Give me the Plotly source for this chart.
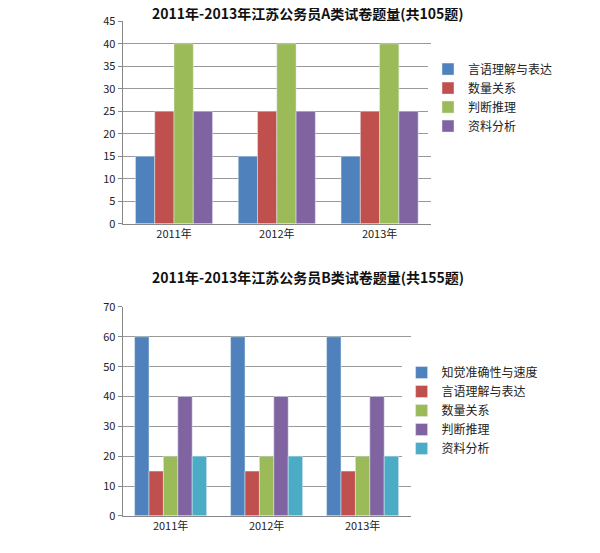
import plotly.graph_objects as go

years = ["2011年", "2012年", "2013年"]
a_names = ["言语理解与表达", "数量关系", "判断推理", "资料分析"]
a_vals = [[15, 15, 15], [25, 25, 25], [40, 40, 40], [25, 25, 25]]
a_colors = ["#4F81BD", "#C0504D", "#9BBB59", "#8064A2"]
b_names = ["知觉准确性与速度", "言语理解与表达", "数量关系", "判断推理", "资料分析"]
b_vals = [[60, 60, 60], [15, 15, 15], [20, 20, 20], [40, 40, 40], [20, 20, 20]]
b_colors = ["#4F81BD", "#C0504D", "#9BBB59", "#8064A2", "#4BACC6"]

fig = go.Figure()
for n, v, c in zip(a_names, a_vals, a_colors):
    fig.add_trace(go.Bar(x=years, y=v, name=n, marker_color=c, xaxis="x", yaxis="y",
                         legend="legend", offsetgroup=n + "a"))
for n, v, c in zip(b_names, b_vals, b_colors):
    fig.add_trace(go.Bar(x=years, y=v, name=n, marker_color=c, xaxis="x2", yaxis="y2",
                         legend="legend2", offsetgroup=n + "b"))

font = dict(family="Noto Sans CJK SC", size=11, color="#222")
ax = dict(showline=True, linecolor="#888", ticks="", tickfont=font)
ay = dict(showline=True, linecolor="#888", gridcolor="#999", ticks="outside",
          ticklen=4, tickcolor="#888", tickfont=font, zeroline=False)
fig.update_layout(
    width=600, height=553, margin=dict(l=0, r=0, t=0, b=0),
    paper_bgcolor="white", plot_bgcolor="white", barmode="group",
    bargap=0.25, bargroupgap=0, font=font,
    xaxis=dict(domain=[0.191, 0.705], anchor="y", **ax),
    yaxis=dict(domain=[0.615, 0.992], anchor="x", range=[0, 45], dtick=5, **ay),
    xaxis2=dict(domain=[0.191, 0.671], anchor="y2", **ax),
    yaxis2=dict(domain=[0.071, 0.460], anchor="x2", range=[0, 70], dtick=10, **ay),
    legend=dict(x=0.70, y=0.93, xanchor="left", yanchor="top", tracegroupgap=0,
                font=dict(family="Noto Sans CJK SC", size=12), itemwidth=30),
    legend2=dict(x=0.656, y=0.365, xanchor="left", yanchor="top",
                 font=dict(family="Noto Sans CJK SC", size=12), itemwidth=30),
    showlegend=True,
    annotations=[
        dict(text="<b>2011年-2013年江苏公务员A类试卷题量(共105题)</b>", x=0.5, y=1.03,
             xref="paper", yref="paper", showarrow=False,
             font=dict(family="Noto Sans CJK SC", size=14, color="#111")),
        dict(text="<b>2011年-2013年江苏公务员B类试卷题量(共155题)</b>", x=0.5, y=0.515,
             xref="paper", yref="paper", showarrow=False,
             font=dict(family="Noto Sans CJK SC", size=14, color="#111")),
    ],
)
fig.write_html("out.html")
